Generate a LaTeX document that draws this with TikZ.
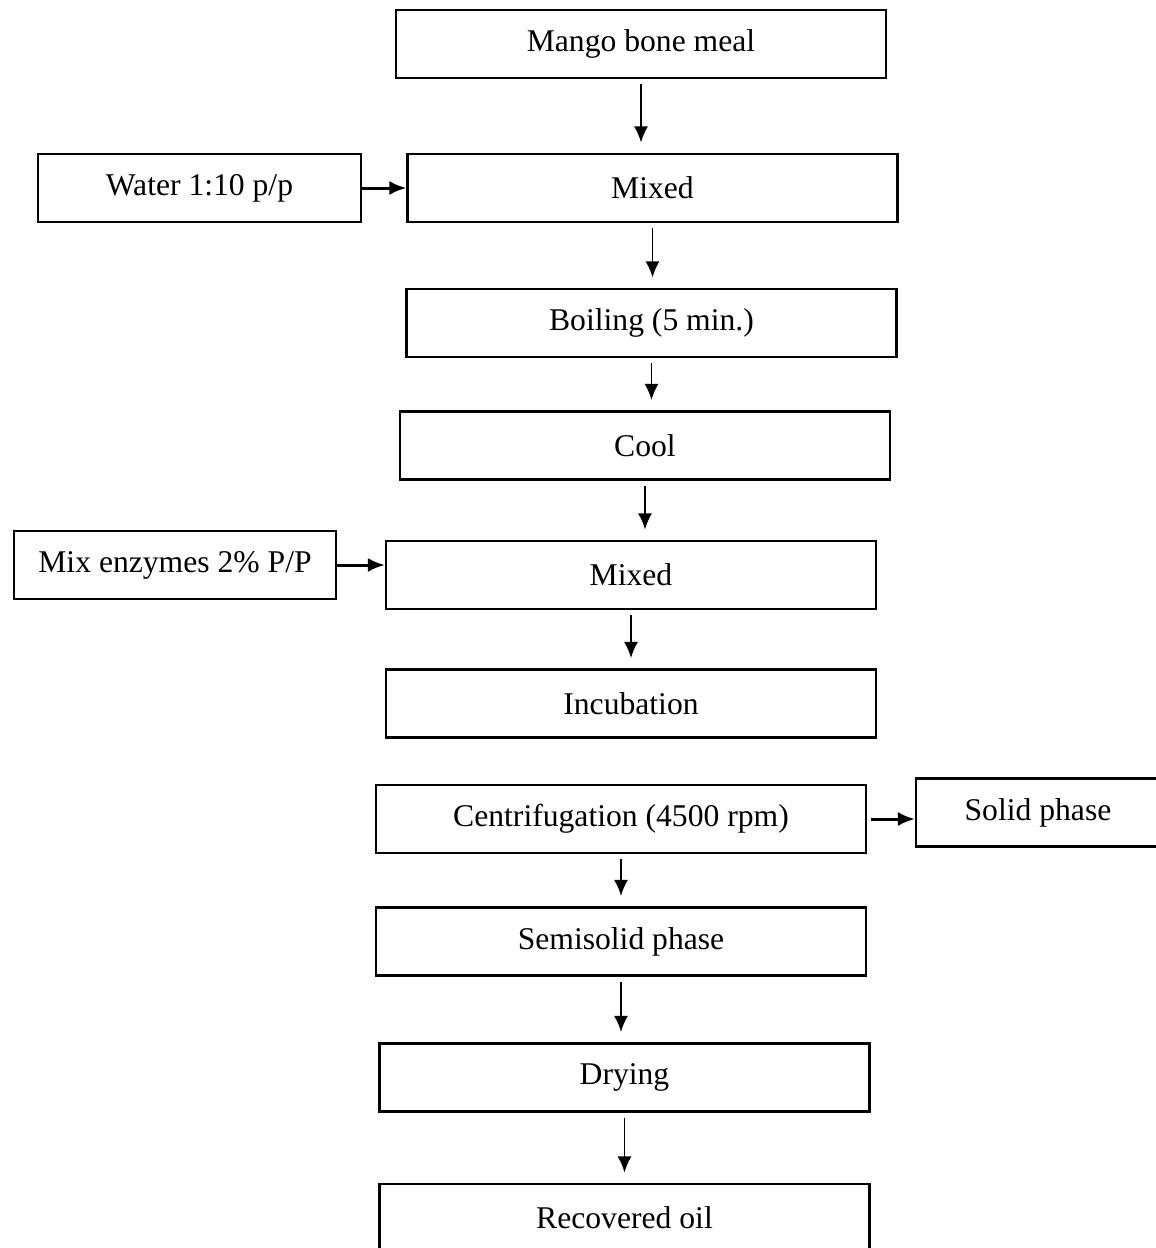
\documentclass[tikz,border=0pt]{standalone}
\usepackage{fontspec}
\setmainfont{Liberation Serif}
\usetikzlibrary{arrows.meta}
\begin{document}
\begin{tikzpicture}[>={Latex[length=0.32cm,width=0.28cm]},font=\fontsize{18}{22}\selectfont,
    stage/.style={draw,line width=1.2pt,minimum width=9.8cm,minimum height=1.36cm,inner sep=0pt},
    addin/.style={stage,minimum width=6.45cm},
    flow/.style={->,line width=0.9pt,shorten <=3pt,shorten >=6pt},
    feed/.style={->,line width=1.7pt,>={Latex[length=0.34cm,width=0.28cm]}}]
    \useasboundingbox (0,0) rectangle (23.12,-24.96);
    \node [stage] (mango) at (12.82,-0.88) {Mango bone meal};
    \node [addin] (water) at (3.99,-3.76) {Water 1:10 p/p};
    \node [stage] (mixA) at (13.05,-3.76) {Mixed};
    \node [stage] (boil) at (13.03,-6.46) {Boiling (5 min.)};
    \node [stage] (cool) at (12.90,-8.91) {Cool};
    \node [addin] (enzymes) at (3.50,-11.30) {Mix enzymes 2\% P/P};
    \node [stage] (mixB) at (12.62,-11.50) {Mixed};
    \node [stage] (incub) at (12.62,-14.07) {Incubation};
    \node [stage] (centri) at (12.42,-16.38) {Centrifugation (4500 rpm)};
    \node [stage,minimum width=4.88cm] (solid) at (20.76,-16.25) {Solid phase};
    \node [stage] (semi) at (12.42,-18.83) {Semisolid phase};
    \node [stage] (dry) at (12.49,-21.55) {Drying};
    \node [stage] (oil) at (12.49,-24.36) {Recovered oil};
    \draw [flow] (mango) -- (mango |- mixA.north);
    \draw [feed] (water) -- (water -| mixA.west);
    \draw [flow] (mixA) -- (mixA |- boil.north);
    \draw [flow] (boil) -- (boil |- cool.north);
    \draw [flow] (cool) -- (cool |- mixB.north);
    \draw [feed] (enzymes) -- (enzymes -| mixB.west);
    \draw [flow] (mixB) -- (mixB |- incub.north);
    \draw [feed,shorten <=2pt] (centri) -- (centri -| solid.west);
    \draw [flow] (centri) -- (centri |- semi.north);
    \draw [flow] (semi) -- (semi |- dry.north);
    \draw [flow] (dry) -- (dry |- oil.north);
\end{tikzpicture}
\end{document}
